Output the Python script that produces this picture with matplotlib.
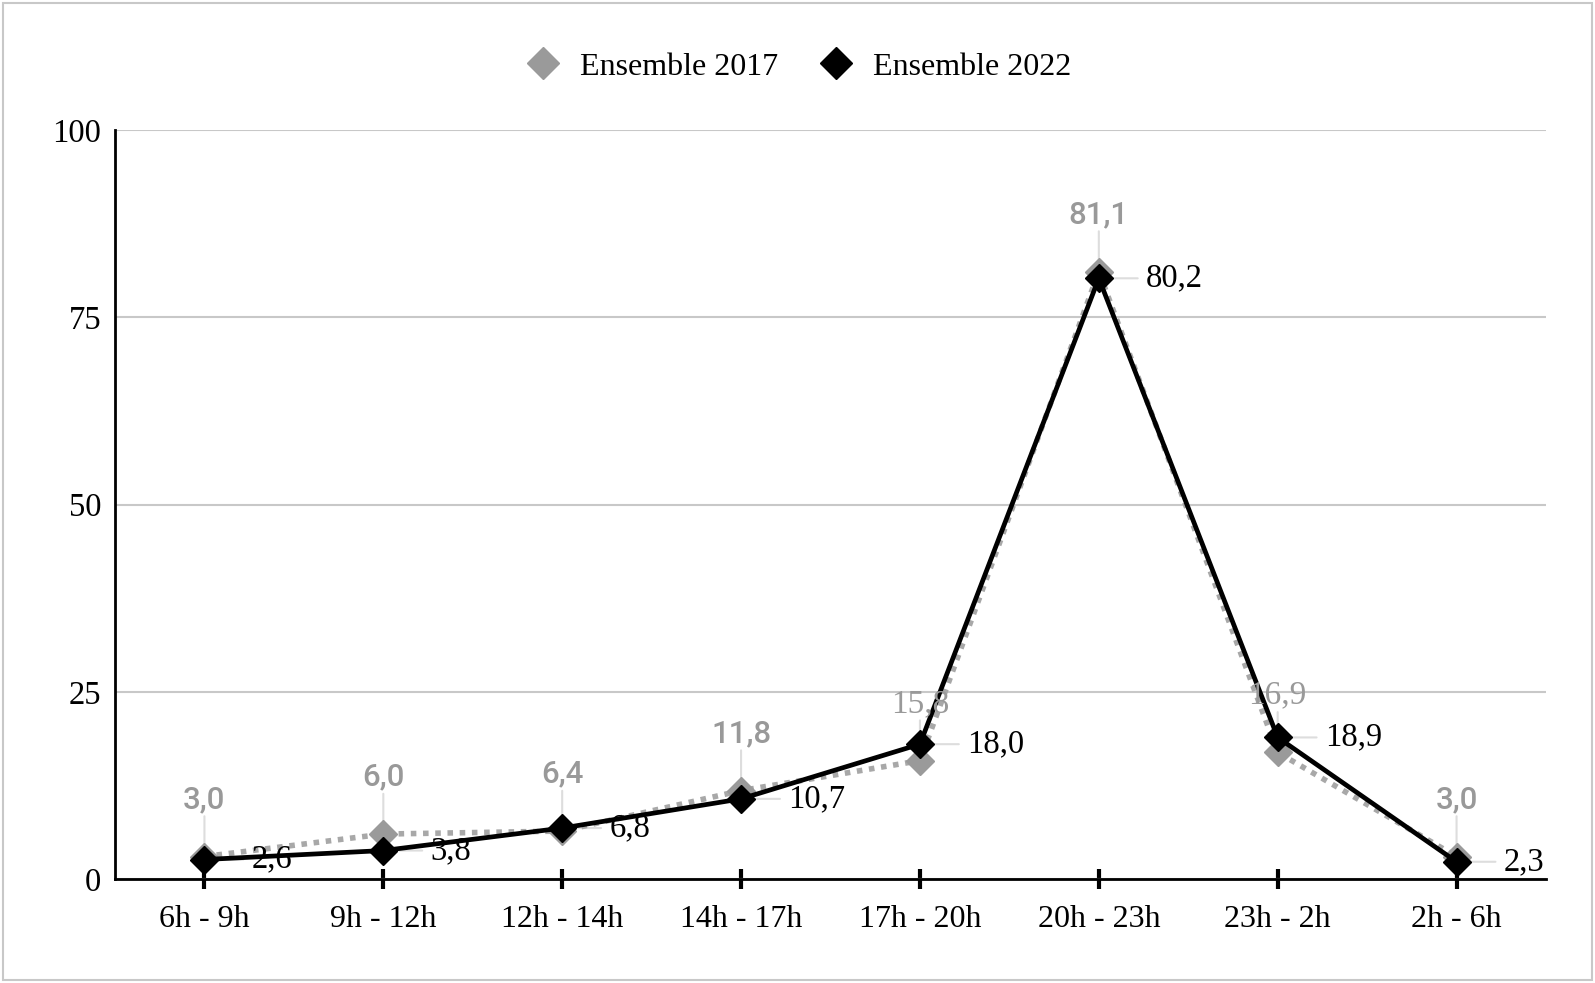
import matplotlib
matplotlib.use("Agg")
import matplotlib.pyplot as plt
from matplotlib.lines import Line2D
from matplotlib.patches import Rectangle
import numpy as np

categories = ["6h - 9h", "9h - 12h", "12h - 14h", "14h - 17h", "17h - 20h", "20h - 23h", "23h - 2h", "2h - 6h"]
vals_2017 = [3.0, 6.0, 6.4, 11.8, 15.8, 81.1, 16.9, 3.0]
vals_2022 = [2.6, 3.8, 6.8, 10.7, 18.0, 80.2, 18.9, 2.3]
yticks = [0, 25, 50, 75, 100]

serif = "Liberation Serif"
sans = "Roboto"
gray = "#999999"

W, H = 1595, 983
fig = plt.figure(figsize=(W/100, H/100), dpi=100)
left, right, top, bottom = 115, 1546, 130, 879
ax = fig.add_axes([left/W, 1 - bottom/H, (right-left)/W, (bottom-top)/H])
x = np.arange(len(categories))

ax.plot(x, vals_2017, color="#a8a8a8", lw=4, ls=(0, (1, 1.2)), zorder=3)
ax.plot(x, vals_2017, ls="none", marker="D", ms=14, color="#9a9a9a", zorder=4)
ax.plot(x, vals_2022, color="black", lw=3.4, zorder=5)
ax.plot(x, vals_2022, ls="none", marker="D", ms=14, color="black", zorder=6)

ax.set_xlim(-0.5, len(categories) - 0.5)
ax.set_ylim(0, 100)
ax.set_yticks(yticks)
ax.set_yticklabels([str(v) for v in yticks], fontfamily=serif, fontsize=23.5)
ax.set_xticks(x)
ax.set_xticklabels(categories, fontfamily=serif, fontsize=23)
ax.tick_params(axis="y", length=0, pad=10)
ax.tick_params(axis="x", direction="inout", length=15, width=3, color="black", pad=11)
ax.grid(axis="y", color="#c8c8c8", lw=1.5)
ax.set_axisbelow(True)
for s in ["top", "right"]:
    ax.spines[s].set_visible(False)
ax.spines["left"].set_linewidth(2)
ax.spines["bottom"].set_linewidth(2)

serif_2017 = {4, 6}
for i, v in enumerate(vals_2017):
    ax.annotate("", xy=(i, v), xytext=(0, 29), textcoords="offset points",
                arrowprops=dict(arrowstyle="-", color="#dddddd", lw=1.5, shrinkA=0, shrinkB=0), zorder=2)
    fam = serif if i in serif_2017 else sans
    fs = 24 if i in serif_2017 else 22.5
    wt = "normal" if i in serif_2017 else "medium"
    ax.annotate(f"{v:.1f}".replace(".", ","), xy=(i, v), xytext=(0, 41), textcoords="offset points",
                ha="center", va="center", color=gray, fontsize=fs, fontfamily=fam, fontweight=wt, zorder=7)
for i, v in enumerate(vals_2022):
    ax.annotate("", xy=(i, v), xytext=(28, 0), textcoords="offset points",
                arrowprops=dict(arrowstyle="-", color="#dddddd", lw=1.5, shrinkA=0, shrinkB=0), zorder=2)
    ax.annotate(f"{v:.1f}".replace(".", ","), xy=(i, v), xytext=(34, 0), textcoords="offset points",
                ha="left", va="center", color="black", fontsize=23.5, fontfamily=serif, zorder=7)

handles = [Line2D([], [], ls="none", marker="D", ms=16, color="#9a9a9a"),
           Line2D([], [], ls="none", marker="D", ms=16, color="black")]
fig.legend(handles, ["Ensemble 2017", "Ensemble 2022"], loc="center", bbox_to_anchor=(0.50, 1 - 67/H),
           ncol=2, frameon=False, prop={"family": serif, "size": 23}, handletextpad=0.55,
           columnspacing=1.2, handlelength=1.2)

fig.patches.append(Rectangle((0.002, 0.003), 0.996, 0.994, transform=fig.transFigure,
                             fill=False, edgecolor="#c8c8c8", lw=1.5))

fig.savefig("out.png", dpi=100)
